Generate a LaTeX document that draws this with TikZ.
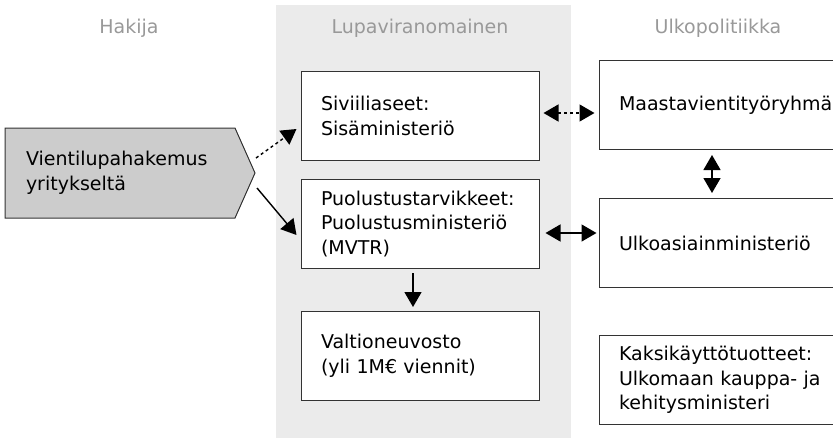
\documentclass[tikz,border=0pt]{standalone}
\usepackage{fontspec}
\setmainfont{DejaVu Sans}
\usetikzlibrary{arrows.meta}
\definecolor{colbg}{HTML}{EBEBEB}
\definecolor{appgray}{HTML}{CCCCCC}
\definecolor{headgray}{HTML}{999999}
\definecolor{edge}{HTML}{333333}
\begin{document}
\begin{tikzpicture}[x=1pt,y=-1pt,
  txt/.style={font=\fontsize{19pt}{24.5pt}\selectfont},
  head/.style={txt,text=headgray,anchor=base},
  box/.style={txt,draw=edge,line width=1pt,fill=white,minimum height=89pt,
    inner xsep=20pt,align=left},
  midbox/.style={box,text width=198pt},
  rightbox/.style={box,text width=210pt},
  link/.style={line width=1.4pt,-{Triangle[length=15pt,width=17pt]}},
  twoway/.style={line width=1.4pt,{Triangle[length=15pt,width=17pt]}-{Triangle[length=15pt,width=17pt]}},
  dots/.style={dash pattern=on 3pt off 3pt}]

\clip (0,0) rectangle (833,437);

% columns
\fill [colbg] (276,5) rectangle (571,440);
\path (129,33) node[head] (hakija) {Hakija};
\path (420,33) node[head] (lupa) {Lupaviranomainen};
\path (718,33) node[head] (ulkopol) {Ulkopolitiikka};

% applicant
\path (255,173) coordinate(apptip);
\draw [draw=edge,line width=1pt,fill=appgray] (5,128)--(235,128)--(apptip)--(235,218)--(5,218)--cycle;
\path (120,173) node[txt,minimum width=230pt,minimum height=90pt,text width=188pt,inner xsep=21pt,align=left] (app) {Vientilupahakemus\\yritykseltä};

% authorities
\path (420,116) node[midbox] (sivi) {Siviiliaseet:\\Sisäministeriö};
\path (420,224) node[midbox] (puol) {Puolustustarvikkeet:\\Puolustusministeriö\\(MVTR)};
\path (420,356) node[midbox] (valt) {Valtioneuvosto\\(yli 1M€ viennit)};

% foreign policy
\path (724,105) node[rightbox] (maas) {Maastavientityöryhmä};
\path (724,243) node[rightbox] (ulko) {Ulkoasiainministeriö};
\path (724,380) node[rightbox] (kaks) {Kaksikäyttötuotteet:\\Ulkomaan kauppa- ja\\kehitysministeri};

\path (256,158) coordinate(out1);
\path (257,188) coordinate(out2);

\draw [link,dots] (out1) -- ([xshift=-4pt,yshift=-13pt]sivi.west);
\draw [link] (out2) -- ([xshift=-4pt,yshift=-11pt]puol.west);
\draw [link] ([xshift=-7pt,yshift=-4pt]puol.south) -- ([xshift=-7pt,yshift=4pt]valt.north);
\draw [twoway,dots] ([xshift=4pt,yshift=3pt]sivi.east) -- ([xshift=-4pt,yshift=-8pt]maas.west);
\draw [twoway] ([xshift=6pt,yshift=-9pt]puol.east) -- ([xshift=-2pt,yshift=10pt]ulko.west);
\draw [twoway] ([xshift=-12pt,yshift=-5pt]maas.south) -- ([xshift=-12pt,yshift=5pt]ulko.north);

\end{tikzpicture}
\end{document}
